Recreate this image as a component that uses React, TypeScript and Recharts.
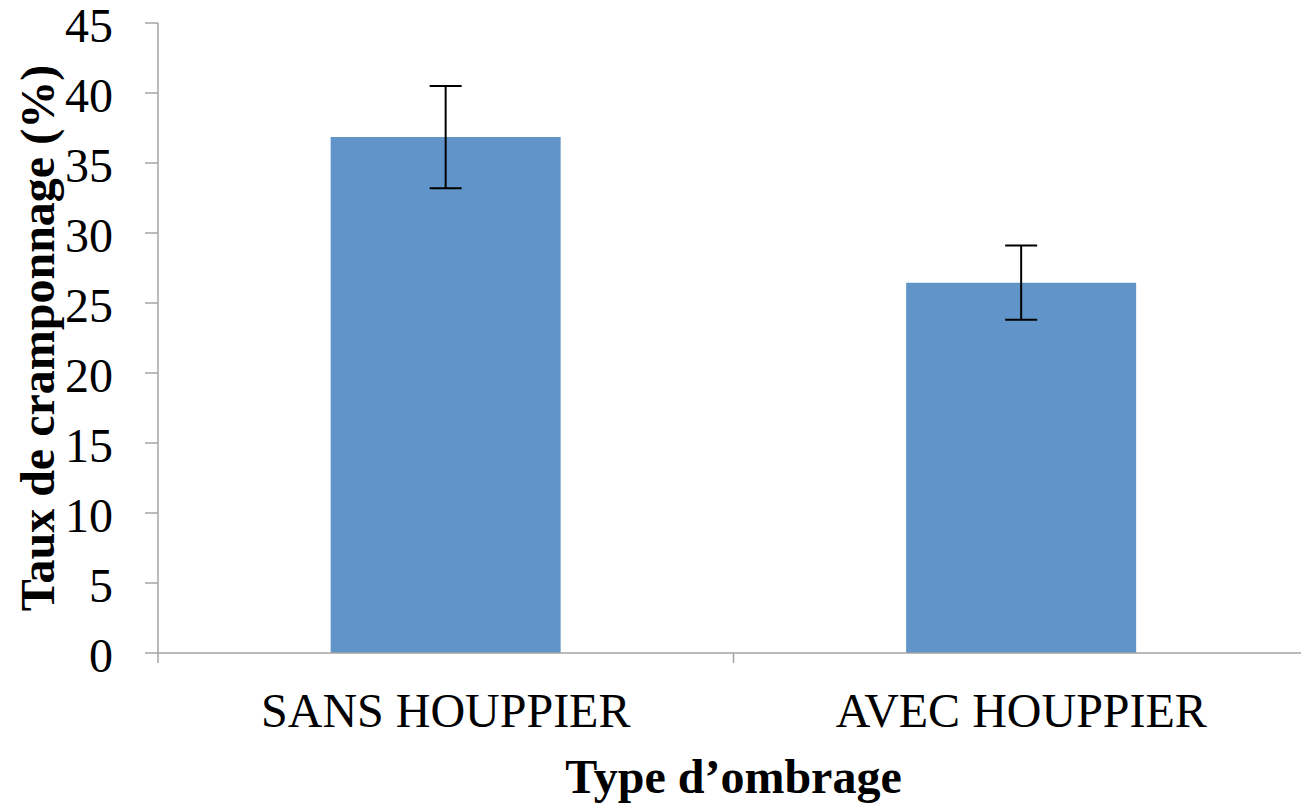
import { BarChart, Bar, XAxis, YAxis, ErrorBar, Label } from 'recharts'

const categories = ['SANS HOUPPIER', 'AVEC HOUPPIER']
const rates = [36.85, 26.45]
const errors = [3.65, 2.65]
const yTicks = [0, 5, 10, 15, 20, 25, 30, 35, 40, 45]

const data = categories.map((name, i) => ({ name, rate: rates[i], err: errors[i] }))

const W = 1310
const H = 806
const MARGIN = { top: 23, right: 1, bottom: 0, left: 0 }
const Y_W = 158
const X_H = 153
const FONT = '"Liberation Serif", "Times New Roman", serif'
const AXIS = '#a3a3a3'
const BAR = '#6194c8'

const halfBand = (W - MARGIN.left - MARGIN.right - Y_W) / categories.length / 2

function CategoryTick(props: any) {
  const { x, y, payload, index } = props
  const last = index === categories.length - 1
  return (
    <g>
      <line x1={x - halfBand} x2={x - halfBand} y1={y} y2={y + 10} stroke={AXIS} strokeWidth={1.5} />
      {last && (
        <line x1={x + halfBand} x2={x + halfBand} y1={y} y2={y + 10} stroke={AXIS} strokeWidth={1.5} />
      )}
      <text x={x} y={y + 40} dy="0.71em" textAnchor="middle" fontFamily={FONT} fontSize={48} fill="#000">
        {payload.value}
      </text>
    </g>
  )
}

export default function App() {
  return (
    <div style={{ position: 'absolute', left: 0, top: 0, width: 1301, height: 806, overflow: 'hidden', background: '#fff' }}>
      <BarChart width={W} height={H} data={data} margin={MARGIN} barCategoryGap="30%">
        <XAxis
          dataKey="name"
          height={X_H}
          tickLine={false}
          tickSize={0}
          tickMargin={0}
          axisLine={{ stroke: AXIS, strokeWidth: 1.5 }}
          tick={<CategoryTick />}
          interval={0}
        >
          <Label
            value="Type d’ombrage"
            position="insideBottom"
            offset={13}
            style={{ fontFamily: FONT, fontSize: 48, fontWeight: 'bold', fill: '#000' }}
          />
        </XAxis>
        <YAxis
          width={Y_W}
          domain={[0, 45]}
          ticks={yTicks}
          interval={0}
          tickSize={13}
          tickMargin={32}
          axisLine={{ stroke: AXIS, strokeWidth: 1.5 }}
          tickLine={{ stroke: AXIS, strokeWidth: 1.5 }}
          tick={{ fontFamily: FONT, fontSize: 48, fill: '#000', dy: 2 }}
        >
          <Label
            content={(p: any) => {
              const vb = p.viewBox
              const cx = vb.x + 37
              const cy = vb.y + vb.height / 2
              return (
                <text
                  x={cx}
                  y={cy}
                  transform={`rotate(-90 ${cx} ${cy})`}
                  textAnchor="middle"
                  dominantBaseline="central"
                  fontFamily={FONT}
                  fontSize={48}
                  fontWeight="bold"
                  fill="#000"
                >
                  Taux de cramponnage (%)
                </text>
              )
            }}
          />
        </YAxis>
        <Bar dataKey="rate" fill={BAR} isAnimationActive={false}>
          <ErrorBar dataKey="err" width={16} strokeWidth={2} stroke="#000" direction="y" />
        </Bar>
      </BarChart>
    </div>
  )
}
